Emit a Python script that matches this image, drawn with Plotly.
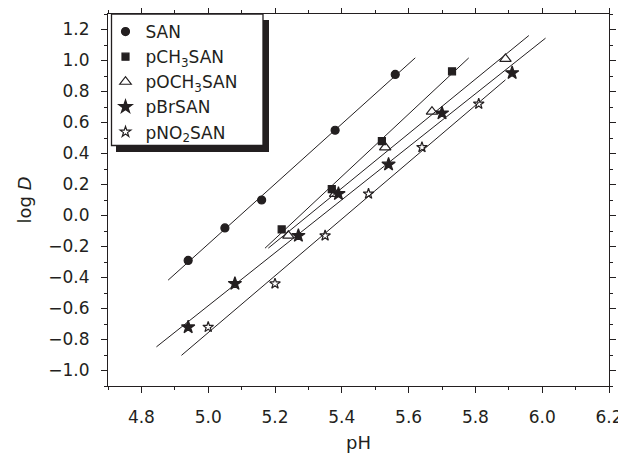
import numpy as np
import plotly.graph_objects as go

# ---- data ----
series_names = ["SAN", "pCH<sub>3</sub>SAN", "pOCH<sub>3</sub>SAN", "pBrSAN", "pNO<sub>2</sub>SAN"]

ph_SAN = [4.94, 5.05, 5.16, 5.38, 5.56]
logD_SAN = [-0.29, -0.08, 0.10, 0.55, 0.91]

ph_CH3 = [5.22, 5.37, 5.52, 5.73]
logD_CH3 = [-0.09, 0.17, 0.48, 0.93]

ph_OCH3 = [5.24, 5.38, 5.53, 5.67, 5.89]
logD_OCH3 = [-0.13, 0.14, 0.44, 0.67, 1.01]

ph_Br = [4.94, 5.08, 5.27, 5.39, 5.54, 5.70, 5.91]
logD_Br = [-0.72, -0.44, -0.13, 0.14, 0.33, 0.66, 0.92]

ph_NO2 = [5.00, 5.20, 5.35, 5.48, 5.64, 5.81]
logD_NO2 = [-0.72, -0.44, -0.13, 0.14, 0.44, 0.72]

# pH extents of the fitted lines
fit_SAN = [4.88, 5.62]
fit_CH3 = [5.17, 5.78]
fit_OCH3 = [5.18, 5.96]
fit_Br = [4.845, 6.01]
fit_NO2 = [4.92, 5.89]

x_ticks = [4.8, 5.0, 5.2, 5.4, 5.6, 5.8, 6.0, 6.2]
y_ticks = [1.2, 1.0, 0.8, 0.6, 0.4, 0.2, 0.0, -0.2, -0.4, -0.6, -0.8, -1.0]

# ---- styling ----
series = [
    (series_names[0], ph_SAN, logD_SAN, fit_SAN, "circle", 8),
    (series_names[1], ph_CH3, logD_CH3, fit_CH3, "square", 7),
    (series_names[2], ph_OCH3, logD_OCH3, fit_OCH3, "triangle-up-open", 10),
    (series_names[3], ph_Br, logD_Br, fit_Br, "star", 10),
    (series_names[4], ph_NO2, logD_NO2, fit_NO2, "star-open", 8),
]

INK = "#231f20"
FONT = "DejaVu Sans, Liberation Sans, Arial, sans-serif"

fig = go.Figure()
for i, (name, xs, ys, ext, sym, size) in enumerate(series):
    m, b = np.polyfit(xs, ys, 1)
    lx = np.array(ext)
    fig.add_trace(go.Scatter(
        x=lx, y=m * lx + b, mode="lines",
        line=dict(color=INK, width=1), showlegend=False, hoverinfo="skip"))
for i, (name, xs, ys, ext, sym, size) in enumerate(series):
    fig.add_trace(go.Scatter(
        x=xs, y=ys, mode="markers", name=name, legendgroup=f"g{i}",
        marker=dict(symbol=sym, size=size, color=INK,
                    line=dict(color=INK, width=1.2))))

# The page body has an 8 px margin, so the figure sits at (8, 8);
# size the figure so that it fits in the 626x456 window.
OFF = 8
W, H = 626 - OFF, 456 - OFF
# desired plot area in window pixels
PL, PR, PT, PB = 108, 609, 14, 386
L, T = PL - OFF, PT - OFF
R = (W + OFF) - PR
B = (H + OFF) - PB
pw, ph = PR - PL, PB - PT


def rect(x0, y0, x1, y1, **kw):
    return dict(type="rect", xref="paper", yref="paper",
                x0=(x0 - PL) / pw, x1=(x1 - PL) / pw,
                y0=(PB - y1) / ph, y1=(PB - y0) / ph, **kw)


shapes = [
    # legend shadow (right and bottom bars)
    rect(263, 20, 269, 152, fillcolor=INK, line=dict(width=0), layer="above"),
    rect(116, 145, 269, 152, fillcolor=INK, line=dict(width=0), layer="above"),
    # legend frame
    rect(111.5, 14, 263, 145.5, fillcolor="white", line=dict(color=INK, width=1.3), layer="above"),
]

axis_common = dict(
    showline=True, linecolor=INK, linewidth=1, mirror="ticks",
    ticks="outside", ticklen=6, tickwidth=1, tickcolor=INK,
    showgrid=False, zeroline=False, automargin=False,
    tickfont=dict(family=FONT, size=17, color=INK),
    tickformat=".1f",
    minor=dict(ticks="outside", ticklen=3, tickwidth=1, tickcolor=INK, dtick=0.1, showgrid=False),
)

fig.update_layout(
    template="none",
    width=W, height=H,
    margin=dict(l=L, r=R, t=T, b=B),
    paper_bgcolor="white", plot_bgcolor="white",
    shapes=shapes,
    showlegend=True,
    legend=dict(
        x=(111.5 - PL) / pw, y=1.0, xanchor="left", yanchor="top",
        bgcolor="rgba(0,0,0,0)", borderwidth=0,
        font=dict(family=FONT, size=17, color=INK),
        tracegroupgap=0, indentation=-6,
    ),
    xaxis=dict(axis_common, range=[4.7, 6.2], tickvals=x_ticks,
               title=dict(text="pH", font=dict(family=FONT, size=18, color=INK), standoff=9),
               ticklabelstandoff=10),
    yaxis=dict(axis_common, range=[-1.1, 1.3], tickvals=y_ticks,
               title=dict(text="log <i>D</i>", font=dict(family=FONT, size=18, color=INK), standoff=12),
               ticklabelstandoff=8),
)

fig.write_html("out.html")
